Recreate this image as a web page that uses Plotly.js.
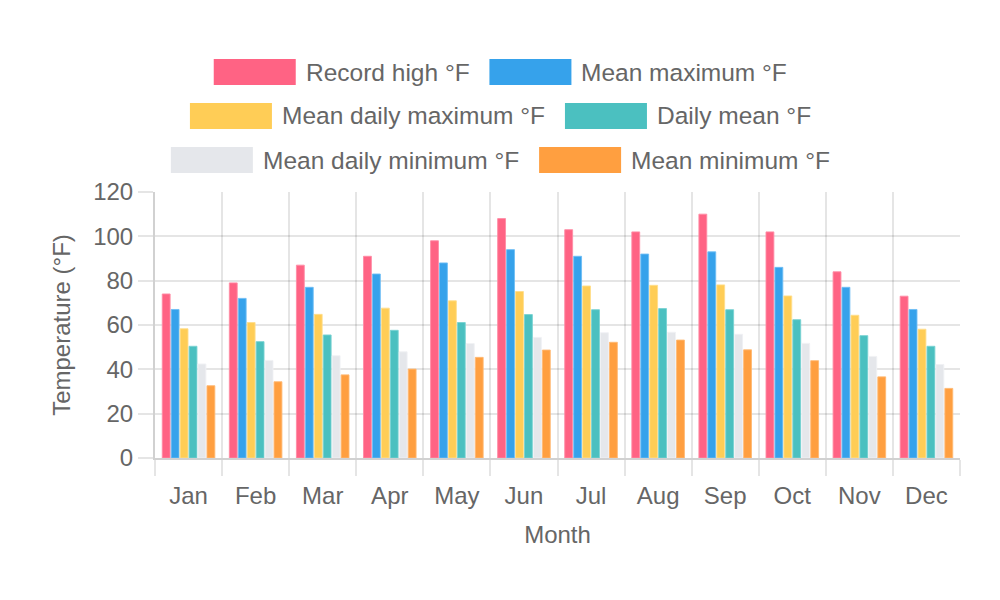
<!DOCTYPE html>
<html>
<head>
<meta charset="utf-8">
<script src="https://cdn.plot.ly/plotly-3.0.1.min.js"></script>
<style>
  html, body { margin: 0; padding: 0; background: #fff; }
  #chart { width: 1000px; height: 600px; }
</style>
</head>
<body>
<div id="chart"></div>
<script>
// Monthly temperature climate data (°F)
const months = ["Jan", "Feb", "Mar", "Apr", "May", "Jun", "Jul", "Aug", "Sep", "Oct", "Nov", "Dec"];
const seriesNames = ["Record high °F", "Mean maximum °F", "Mean daily maximum °F",
                     "Daily mean °F", "Mean daily minimum °F", "Mean minimum °F"];
const recordHigh     = [74, 79, 87, 91, 98, 108, 103, 102, 110, 102, 84, 73];
const meanMaximum    = [67, 72, 77, 83, 88, 94, 91, 92, 93, 86, 77, 67];
const meanDailyMax   = [58.3, 61.1, 64.8, 67.6, 70.9, 75.1, 77.6, 77.9, 78.1, 73.1, 64.4, 58.1];
const dailyMean      = [50.4, 52.5, 55.5, 57.6, 61.1, 64.7, 66.9, 67.4, 66.9, 62.4, 55.2, 50.4];
const meanDailyMin   = [42.4, 44.0, 46.1, 47.9, 51.6, 54.4, 56.5, 56.7, 55.8, 51.7, 45.8, 42.2];
const meanMinimum    = [32.6, 34.4, 37.5, 40.1, 45.4, 48.7, 52.2, 53.2, 48.8, 43.9, 36.6, 31.4];

const seriesValues = [recordHigh, meanMaximum, meanDailyMax, dailyMean, meanDailyMin, meanMinimum];
const fills   = ["rgb(255,99,132)", "rgb(54,162,235)", "rgb(255,205,86)",
                 "rgb(75,192,192)", "rgb(229,231,235)", "rgb(255,159,64)"];
const borders = ["rgba(255,140,165,0.9)", "rgba(110,190,245,0.9)", "rgba(255,222,140,0.9)",
                 "rgba(120,210,210,0.9)", "rgba(240,241,244,0.9)", "rgba(255,185,115,0.9)"];

const FONT = "Liberation Sans, Arial, Helvetica, sans-serif";
const TEXT = "#666";
const LEGEND_SIZE = 24.5;

// plot area in page pixels
const M = { l: 155, r: 40, t: 192, b: 142 };
const W = 1000, H = 600;
const pw = W - M.l - M.r, ph = H - M.t - M.b;
const px2x = p => (p - M.l) / pw;
const px2y = p => (H - M.b - p) / ph;

const traces = seriesNames.map((name, i) => ({
  type: "bar",
  name: name,
  x: months,
  y: seriesValues[i],
  marker: { color: fills[i], line: { color: borders[i], width: 1 } },
  hovertemplate: "%{x}: %{y} °F<extra>" + name + "</extra>",
  showlegend: false
}));

// Legend: big swatches laid out two per row, centred like a canvas legend
const measure = (() => {
  const c = document.createElement("canvas").getContext("2d");
  c.font = LEGEND_SIZE + "px " + FONT;
  return t => c.measureText(t).width;
})();
const boxW = 82, boxH = 26, boxGap = 9, itemGap = 21;
const rowCenters = [72, 116, 160];
const shapes = [], annotations = [];
for (let r = 0; r < 3; r++) {
  const idx = [2 * r, 2 * r + 1];
  const widths = idx.map(i => boxW + boxGap + measure(seriesNames[i]));
  const total = widths[0] + widths[1] + itemGap;
  let x = W / 2 - total / 2;
  idx.forEach((i, k) => {
    const cy = rowCenters[r];
    shapes.push({
      type: "rect", xref: "paper", yref: "paper",
      x0: px2x(x), x1: px2x(x + boxW),
      y0: px2y(cy + boxH / 2), y1: px2y(cy - boxH / 2),
      fillcolor: fills[i], line: { width: 0 }
    });
    annotations.push({
      xref: "paper", yref: "paper",
      x: px2x(x + boxW + boxGap), y: px2y(cy),
      xanchor: "left", yanchor: "middle", showarrow: false,
      borderpad: 0,
      text: seriesNames[i],
      font: { family: FONT, size: LEGEND_SIZE, color: TEXT }
    });
    x += widths[k] + itemGap;
  });
}

const gridColor = "rgba(0,0,0,0.1)";
const layout = {
  width: W, height: H,
  margin: M,
  paper_bgcolor: "#fff", plot_bgcolor: "#fff",
  barmode: "group",
  bargap: 0.2,
  bargroupgap: 0.12,
  font: { family: FONT, size: 24, color: TEXT },
  showlegend: false,
  xaxis: {
    type: "category",
    tickson: "boundaries",
    ticks: "outside", ticklen: 16, tickcolor: gridColor, tickwidth: 2,
    ticklabelstandoff: 15,
    showgrid: true, gridcolor: gridColor, gridwidth: 2,
    showline: true, linecolor: "rgba(0,0,0,0.18)", linewidth: 2,
    tickfont: { family: FONT, size: 24, color: TEXT },
    title: { text: "Month", font: { family: FONT, size: 24, color: TEXT }, standoff: 18 }
  },
  yaxis: {
    range: [0, 120], dtick: 20,
    ticks: "outside", ticklen: 15, tickcolor: gridColor, tickwidth: 2,
    showgrid: true, gridcolor: gridColor, gridwidth: 2,
    showline: true, linecolor: "rgba(0,0,0,0.18)", linewidth: 2,
    zeroline: false,
    tickfont: { family: FONT, size: 24, color: TEXT },
    title: { text: "Temperature (°F)", font: { family: FONT, size: 24, color: TEXT }, standoff: 16 }
  },
  shapes: shapes,
  annotations: annotations
};

Plotly.newPlot("chart", traces, layout, { displayModeBar: false });
</script>
</body>
</html>
